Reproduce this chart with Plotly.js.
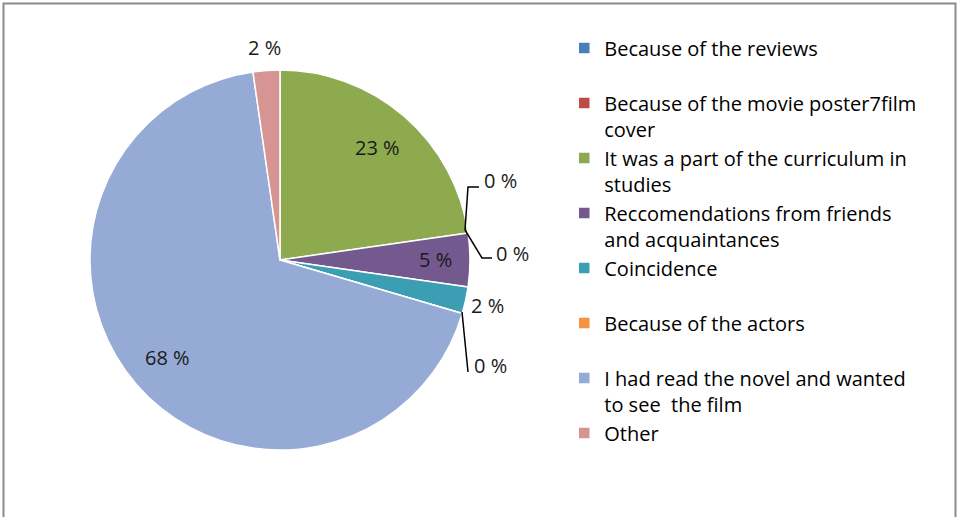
<!DOCTYPE html>
<html><head><meta charset="utf-8">
<script src="https://cdn.plot.ly/plotly-3.0.1.min.js"></script>
<style>html,body{margin:0;padding:0;background:#fff;}#chart{width:958px;height:517px;}</style>
</head><body><div id="chart"></div>
<script>
const categories = [
  "Because of the reviews",
  "Because of the movie poster7film cover",
  "It was a part of the curriculum in studies",
  "Reccomendations from friends and acquaintances",
  "Coincidence",
  "Because of the actors",
  "I had read the novel and wanted to see  the film",
  "Other"
];
const legendLabels = [
  "Because of the reviews<br>\u00a0",
  "Because of the movie poster7film<br>cover",
  "It was a part of the curriculum in<br>studies",
  "Reccomendations from friends<br>and acquaintances",
  "Coincidence<br>\u00a0",
  "Because of the actors<br>\u00a0",
  "I had read the novel and wanted<br>to see  the film",
  "Other<br>\u00a0"
];
const counts = [0, 0, 10, 2, 1, 0, 30, 1];
const colors = ["#4A7EBB", "#BE4B48", "#8DAA4F", "#74598F", "#3C9EB2", "#F69240", "#95AAD4", "#D69593"];
const outsideLabel = [false, false, false, false, true, false, false, true];

const total = counts.reduce((a, b) => a + b, 0);
const pctText = counts.map(v => Math.round(v / total * 100) + " %");

const FONT = "Open Sans, Liberation Sans, sans-serif";
const W = 958, H = 517;
const dom = {x: [0.0939, 0.4906], y: [0.1296, 0.8646]};
const trace = {
  type: "pie",
  labels: legendLabels,
  values: counts,
  textinfo: "none",
  sort: false,
  direction: "clockwise",
  rotation: 0,
  marker: {colors: colors, line: {color: "#ffffff", width: 1.5}},
  domain: dom,
  hoverinfo: "label+value"
};

// percentage labels placed along each slice's mid-angle (derived from the values)
const cx = (dom.x[0] + dom.x[1]) / 2 * W;
const cy = (1 - (dom.y[0] + dom.y[1]) / 2) * H;
const R = Math.min((dom.x[1] - dom.x[0]) * W, (dom.y[1] - dom.y[0]) * H) / 2;
const annotations = [];
let cum = 0;
counts.forEach((v, i) => {
  const mid = (cum + v / 2) / total * 2 * Math.PI;
  cum += v;
  if (v === 0) return;
  const rf = outsideLabel[i] ? 1.12 : (v / total < 0.1 ? 0.82 : 0.78);
  const px = cx + Math.sin(mid) * R * rf;
  const py = cy - Math.cos(mid) * R * rf;
  annotations.push({xref: "paper", yref: "paper", x: px / W, y: 1 - py / H,
    xanchor: "center", yanchor: "middle", showarrow: false, text: pctText[i],
    font: {family: FONT, size: 20, color: "#1a1a1a"}});
});

// zero-value slices get labels with leader lines like the original
const zeroIdx = counts.map((v, i) => v === 0 ? i : -1).filter(i => i >= 0);
[
  {x: 482, y: 181, text: pctText[zeroIdx[0]]},
  {x: 494, y: 254, text: pctText[zeroIdx[1]]},
  {x: 472, y: 365, text: pctText[zeroIdx[2]]}
].forEach(a => annotations.push({xref: "paper", yref: "paper", x: a.x / W, y: 1 - a.y / H,
  xanchor: "left", yanchor: "middle", showarrow: false, text: a.text,
  font: {family: FONT, size: 20, color: "#1a1a1a"}}));

function L(pts) {
  return {type: "path", xref: "paper", yref: "paper",
    path: "M" + pts.map(p => (p[0] / W) + "," + (1 - p[1] / H)).join(" L"),
    line: {color: "#000", width: 1.5}};
}
const shapes = [
  L([[465, 230], [468, 187], [479, 187]]),
  L([[465, 230], [482, 258], [492, 258]]),
  L([[462, 312], [468, 372]]),
  {type: "rect", xref: "paper", yref: "paper", x0: 3.5/W, x1: 955.5/W, y0: -0.02, y1: 1 - 3.5/H,
   line: {color: "#8c8c8c", width: 2}, fillcolor: "rgba(0,0,0,0)", layer: "above"}
];

const layout = {
  width: W, height: H,
  margin: {l: 0, r: 0, t: 0, b: 0},
  paper_bgcolor: "#fff",
  showlegend: true,
  legend: {x: 0.589, y: 0.945, xanchor: "left", yanchor: "top", valign: "top",
    font: {family: FONT, size: 20, color: "#000"}, traceorder: "normal", itemclick: false},
  annotations: annotations,
  shapes: shapes
};
Plotly.newPlot("chart", [trace], layout, {displayModeBar: false, staticPlot: true});
</script></body></html>
